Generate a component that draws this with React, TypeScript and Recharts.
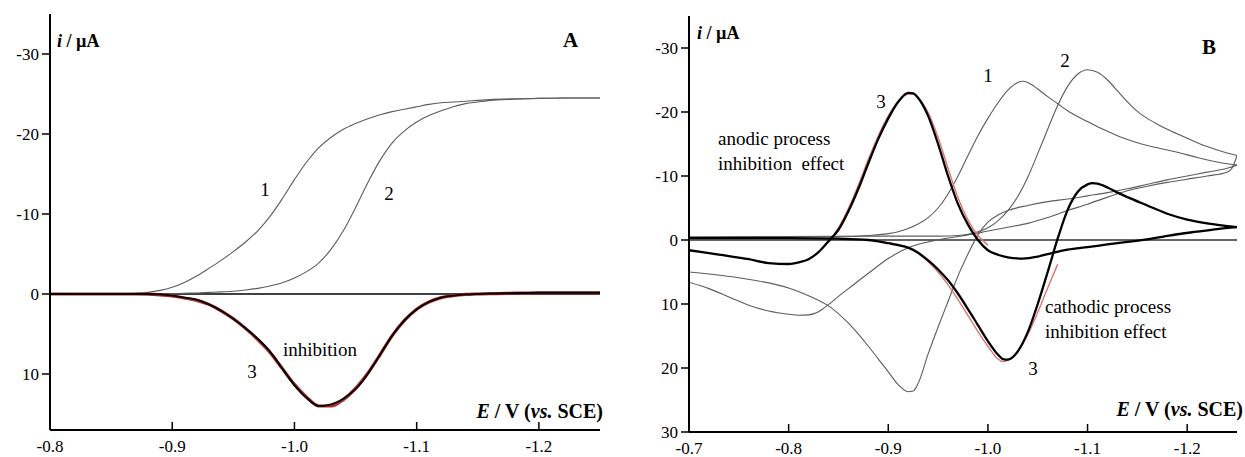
import { LineChart, Line, XAxis, YAxis, ReferenceLine } from 'recharts'

const SERIF = '"Liberation Serif", "Times New Roman", serif'

// ---- panel A: steady-state curves, E in V vs SCE, i in µA ----
const eA = [
  -0.80, -0.84, -0.86, -0.87, -0.88, -0.89, -0.90, -0.91, -0.92, -0.93,
  -0.94, -0.95, -0.96, -0.97, -0.98, -0.99, -1.00, -1.01, -1.02, -1.03,
  -1.04, -1.05, -1.06, -1.07, -1.08, -1.09, -1.10, -1.11, -1.12, -1.13,
  -1.14, -1.15, -1.16, -1.18, -1.20, -1.22, -1.25,
]
const a1 = [
  0, 0, -0.03, -0.08, -0.2, -0.45, -0.85, -1.45, -2.25, -3.2,
  -4.2, -5.3, -6.5, -7.9, -9.7, -11.9, -14.3, -16.5, -18.3, -19.6,
  -20.6, -21.3, -21.9, -22.4, -22.8, -23.1, -23.4, -23.7, -23.9, -24.0,
  -24.1, -24.2, -24.3, -24.4, -24.45, -24.5, -24.5,
]
const a2 = [
  0, 0, 0, 0, 0, 0, -0.05, -0.1, -0.13, -0.2,
  -0.27, -0.35, -0.5, -0.7, -1.0, -1.4, -2.0, -2.8, -3.9, -5.6,
  -7.9, -10.8, -13.9, -16.7, -18.9, -20.4, -21.5, -22.3, -22.9, -23.4,
  -23.8, -24.0, -24.2, -24.35, -24.45, -24.5, -24.5,
]
const a3 = [
  0, 0, 0, 0, 0, 0.05, 0.2, 0.45, 0.7, 1.3,
  2.1, 3.1, 4.3, 5.6, 7.2, 9.3, 11.4, 13.0, 14.0, 13.8,
  13.1, 11.9, 10.0, 7.6, 5.2, 3.3, 1.9, 1.0, 0.45, 0.2,
  0.05, 0, -0.05, -0.1, -0.15, -0.15, -0.15,
]
const a3fit = [
  0, 0, 0, 0, 0.02, 0.1, 0.25, 0.5, 0.8, 1.3,
  2.1, 3.1, 4.3, 5.7, 7.3, 9.3, 11.3, 12.9, 14.0, 14.0,
  13.2, 11.8, 9.9, 7.6, 5.2, 3.3, 1.9, 1.0, 0.45, 0.2,
  0.05, 0, -0.05, -0.1, -0.15, -0.15, -0.15,
]

// ---- panel B: cyclic voltammograms, forward and reverse branches ----
const eF1 = [
  -0.70, -0.75, -0.80, -0.85, -0.88, -0.90, -0.91, -0.92, -0.93, -0.94,
  -0.95, -0.96, -0.97, -0.98, -0.99, -1.00, -1.01, -1.02, -1.03, -1.035,
  -1.04, -1.05, -1.06, -1.07, -1.08, -1.09, -1.10, -1.11, -1.12, -1.13,
  -1.14, -1.15, -1.17, -1.19, -1.21, -1.23, -1.25,
]
const iF1 = [
  -0.4, -0.45, -0.5, -0.5, -0.7, -1.0, -1.3, -1.8, -2.5, -3.5,
  -5.0, -7.2, -10.0, -13.2, -16.3, -19.0, -21.4, -23.4, -24.6, -24.8,
  -24.6, -23.6, -22.4, -21.3, -20.2, -19.3, -18.5, -17.7, -17.0, -16.3,
  -15.7, -15.2, -14.4, -13.7, -12.9, -12.2, -11.7,
]
const eR1 = [
  -0.70, -0.75, -0.80, -0.82, -0.84, -0.86, -0.88, -0.89, -0.90, -0.91,
  -0.92, -0.925, -0.93, -0.94, -0.95, -0.96, -0.97, -0.98, -0.99, -1.00,
  -1.01, -1.02, -1.04, -1.06, -1.08, -1.10, -1.12, -1.14, -1.16, -1.18,
  -1.20, -1.22, -1.24, -1.25,
]
const iR1 = [
  5.0, 5.9, 7.5, 8.7, 10.3, 13.0, 16.6, 18.6, 20.6, 22.6,
  23.7, 23.6, 22.4, 17.8, 13.6, 9.6, 5.6, 2.2, -0.8, -2.8,
  -3.9, -4.6, -5.4, -6.0, -6.4, -6.9, -7.4, -8.0, -8.7, -9.4,
  -10.0, -10.6, -11.2, -11.7,
]
const eF2 = [
  -0.70, -0.80, -0.90, -0.95, -0.97, -0.98, -0.99, -1.00, -1.01, -1.02,
  -1.03, -1.04, -1.05, -1.06, -1.07, -1.08, -1.09, -1.10, -1.11, -1.12,
  -1.13, -1.14, -1.15, -1.16, -1.17, -1.18, -1.20, -1.22, -1.24, -1.25,
]
const iF2 = [
  -0.5, -0.55, -0.6, -0.6, -0.7, -0.9, -1.3, -1.9, -3.0, -4.6,
  -6.8, -9.8, -13.5, -17.3, -21.0, -24.0, -25.9, -26.6, -26.2, -25.0,
  -23.3, -21.6, -20.1, -19.0, -18.1, -17.3, -15.9, -14.6, -13.6, -13.2,
]
const eR2 = [
  -0.70, -0.72, -0.74, -0.76, -0.78, -0.80, -0.81, -0.82, -0.83, -0.84,
  -0.85, -0.86, -0.88, -0.90, -0.92, -0.94, -0.96, -0.98, -1.00, -1.02,
  -1.04, -1.06, -1.08, -1.10, -1.12, -1.14, -1.16, -1.18, -1.20, -1.22,
  -1.24, -1.245, -1.25,
]
const iR2 = [
  6.6, 7.6, 8.9, 10.2, 11.1, 11.6, 11.75, 11.7, 11.2, 10.1,
  8.8, 7.6, 5.2, 2.9, 1.2, 0.3, -0.3, -0.8, -1.4, -2.0,
  -2.6, -3.5, -4.6, -5.6, -6.7, -7.7, -8.4, -9.0, -9.5, -10.0,
  -10.6, -11.2, -13.2,
]
const eP = [
  -0.70, -0.75, -0.80, -0.85, -0.88, -0.89, -0.90, -0.91, -0.92, -0.93,
  -0.94, -0.95, -0.96, -0.97, -0.98, -0.99, -1.00, -1.01, -1.015, -1.02,
  -1.025, -1.03, -1.04, -1.05, -1.06, -1.07, -1.08, -1.09, -1.10, -1.105,
  -1.11, -1.12, -1.13, -1.14, -1.16, -1.18, -1.20, -1.22, -1.25,
]
const iP = [
  -0.3, -0.3, -0.3, -0.2, 0.0, 0.2, 0.5, 0.8, 1.2, 2.0,
  3.2, 4.6, 6.3, 8.4, 10.8, 13.3, 15.8, 17.9, 18.6, 18.7,
  18.3, 17.4, 14.4, 10.0, 5.0, -0.2, -4.7, -7.5, -8.7, -8.9,
  -8.8, -8.2, -7.4, -6.7, -5.4, -4.1, -3.2, -2.6, -2.0,
]
const eQ = [
  -0.70, -0.73, -0.76, -0.78, -0.80, -0.81, -0.82, -0.83, -0.84, -0.85,
  -0.86, -0.87, -0.88, -0.89, -0.90, -0.91, -0.92, -0.925, -0.93, -0.94,
  -0.95, -0.96, -0.97, -0.98, -0.99, -1.00, -1.01, -1.02, -1.035, -1.05,
  -1.065, -1.08, -1.10, -1.12, -1.14, -1.16, -1.175, -1.19, -1.21, -1.23,
  -1.25,
]
const iQ = [
  1.6, 2.3, 3.0, 3.6, 3.75, 3.5, 3.0, 1.9, 0.2, -1.6,
  -4.5, -8.0, -12.0, -15.8, -19.0, -21.6, -23.0, -22.9, -22.2, -19.4,
  -15.0, -10.0, -5.6, -2.4, 0.0, 1.6, 2.3, 2.7, 2.9, 2.6,
  2.0, 1.5, 1.1, 0.7, 0.3, -0.1, -0.5, -0.9, -1.3, -1.7,
  -2.0,
]
// fitted peaks (red)
const eFitQ = [-0.84, -0.85, -0.86, -0.87, -0.88, -0.89, -0.90, -0.91, -0.92, -0.925, -0.93, -0.94, -0.95, -0.96, -0.97, -0.98, -0.99, -1.00]
const iFitQ = [0.4, -1.9, -4.9, -8.6, -12.6, -16.3, -19.4, -21.6, -22.8, -22.8, -22.2, -19.9, -16.0, -11.2, -6.6, -3.1, -0.7, 0.8]
const eFitP = [-0.895, -0.91, -0.92, -0.93, -0.94, -0.95, -0.96, -0.97, -0.98, -0.99, -1.00, -1.01, -1.015, -1.02, -1.025, -1.03, -1.04, -1.05, -1.06, -1.07]
const iFitP = [0.3, 0.7, 1.2, 2.1, 3.4, 5.0, 7.0, 9.3, 11.8, 14.3, 16.6, 18.6, 19.0, 18.8, 18.3, 17.4, 14.8, 11.3, 7.5, 3.8]

const ticksA = [-0.8, -0.9, -1.0, -1.1, -1.2]
const ticksB = [-0.7, -0.8, -0.9, -1.0, -1.1, -1.2]
const yTicksA = [-30, -20, -10, 0, 10]
const yTicksB = [-30, -20, -10, 0, 10, 20, 30]

type Pt = { e: number; i: number }
const zip = (e: number[], i: number[]): Pt[] => e.map((x, k) => ({ e: x, i: i[k] }))

type Series = { data: Pt[]; stroke: string; width: number }

const GRAY = '#5c5c5c'

const seriesA: Series[] = [
  { data: zip(eA, a1), stroke: GRAY, width: 1.1 },
  { data: zip(eA, a2), stroke: GRAY, width: 1.1 },
  { data: zip(eA, a3fit), stroke: '#b02a2a', width: 3.2 },
  { data: zip(eA, a3), stroke: '#000', width: 1.9 },
]

const seriesB: Series[] = [
  { data: zip(eF1, iF1), stroke: GRAY, width: 1.1 },
  { data: zip(eR1, iR1), stroke: GRAY, width: 1.1 },
  { data: zip(eF2, iF2), stroke: GRAY, width: 1.1 },
  { data: zip(eR2, iR2), stroke: GRAY, width: 1.1 },
  { data: zip(eFitQ, iFitQ), stroke: '#e07474', width: 1.4 },
  { data: zip(eFitP, iFitP), stroke: '#e07474', width: 1.4 },
  { data: zip(eP, iP), stroke: '#000', width: 2.3 },
  { data: zip(eQ, iQ), stroke: '#000', width: 2.3 },
]

// x ticks point up into the plot, labels sit below the axis
function XTick(props: any) {
  const { x, y, payload } = props
  return (
    <g>
      <line x1={x} x2={x} y1={y} y2={y - 8} stroke="#000" strokeWidth={1.5} />
      <text x={x} y={y + 22} textAnchor="middle" fontSize={17} fontFamily={SERIF} fill="#000">
        {Number(payload.value).toFixed(1)}
      </text>
    </g>
  )
}

interface PanelProps {
  left: number
  width: number
  top: number
  right: number
  yAxisWidth: number
  xAxisHeight: number
  xDomain: [number, number]
  xTicks: number[]
  yDomain: [number, number]
  yTicks: number[]
  series: Series[]
  zeroColor: string
}

function Panel(p: PanelProps) {
  return (
    <div style={{ position: 'absolute', left: p.left, top: 0 }}>
      <LineChart width={p.width} height={457} margin={{ top: p.top, right: p.right, bottom: 0, left: 0 }}>
        <XAxis
          type="number"
          dataKey="e"
          domain={p.xDomain}
          ticks={p.xTicks}
          reversed
          allowDataOverflow
          interval={0}
          height={p.xAxisHeight}
          axisLine={{ stroke: '#000', strokeWidth: 2 }}
          tickLine={false}
          tickSize={0}
          tickMargin={0}
          tick={(t: any) => <XTick {...t} />}
        />
        <YAxis
          type="number"
          dataKey="i"
          domain={p.yDomain}
          ticks={p.yTicks}
          reversed
          allowDataOverflow
          interval={0}
          width={p.yAxisWidth}
          axisLine={{ stroke: '#000', strokeWidth: 2 }}
          tickLine={{ stroke: '#000', strokeWidth: 1.5 }}
          tickSize={8}
          tickMargin={3}
          tick={{ fill: '#000', fontSize: 17, fontFamily: SERIF }}
        />
        <ReferenceLine y={0} stroke={p.zeroColor} strokeWidth={1.6} />
        {p.series.map((s, k) => (
          <Line
            key={k}
            data={s.data}
            dataKey="i"
            type="monotone"
            stroke={s.stroke}
            strokeWidth={s.width}
            dot={false}
            activeDot={false}
            isAnimationActive={false}
          />
        ))}
      </LineChart>
    </div>
  )
}

export default function App() {
  const txt = { fontFamily: SERIF, fill: '#000' }
  return (
    <div style={{ position: 'fixed', left: 0, top: 0, width: 1245, height: 457, background: '#fff', overflow: 'hidden' }}>
      <Panel
        left={0} width={620} top={14} right={20} yAxisWidth={50} xAxisHeight={27}
        xDomain={[-1.25, -0.8]} xTicks={ticksA} yDomain={[-35, 17]} yTicks={yTicksA}
        series={seriesA} zeroColor="#000"
      />
      <Panel
        left={620} width={625} top={16} right={8} yAxisWidth={69} xAxisHeight={25}
        xDomain={[-1.25, -0.7]} xTicks={ticksB} yDomain={[-35, 30]} yTicks={yTicksB}
        series={seriesB} zeroColor="#333"
      />
      <svg width={1245} height={457} style={{ position: 'absolute', left: 0, top: 0, pointerEvents: 'none' }}>
        {/* panel A labels */}
        <text x={57} y={47} fontSize={18} fontWeight="bold" {...txt}>
          <tspan fontStyle="italic">i</tspan> / µA
        </text>
        <text x={563} y={47} fontSize={21} fontWeight="bold" {...txt}>A</text>
        <text x={265} y={196} fontSize={19} textAnchor="middle" {...txt}>1</text>
        <text x={389} y={200} fontSize={19} textAnchor="middle" {...txt}>2</text>
        <text x={252} y={378} fontSize={19} textAnchor="middle" {...txt}>3</text>
        <text x={283} y={356} fontSize={19} {...txt}>inhibition</text>
        <text x={603} y={418} fontSize={20} fontWeight="bold" textAnchor="end" {...txt}>
          <tspan fontStyle="italic">E</tspan> / V (<tspan fontStyle="italic">vs.</tspan> SCE)
        </text>

        {/* panel B labels */}
        <text x={697} y={39} fontSize={18} fontWeight="bold" {...txt}>
          <tspan fontStyle="italic">i</tspan> / µA
        </text>
        <text x={1202} y={54} fontSize={21} fontWeight="bold" {...txt}>B</text>
        <text x={988} y={82} fontSize={19} textAnchor="middle" {...txt}>1</text>
        <text x={1065} y={67} fontSize={19} textAnchor="middle" {...txt}>2</text>
        <text x={881} y={108} fontSize={19} textAnchor="middle" {...txt}>3</text>
        <text x={1033} y={375} fontSize={19} textAnchor="middle" {...txt}>3</text>
        <text x={718} y={145} fontSize={19} {...txt}>anodic process</text>
        <text x={718} y={170} fontSize={19} style={{ whiteSpace: 'pre' }} {...txt}>inhibition  effect</text>
        <text x={1045} y={313} fontSize={19} {...txt}>cathodic process</text>
        <text x={1045} y={338} fontSize={19} {...txt}>inhibition effect</text>
        <text x={1243} y={416} fontSize={20} fontWeight="bold" textAnchor="end" {...txt}>
          <tspan fontStyle="italic">E</tspan> / V (<tspan fontStyle="italic">vs.</tspan> SCE)
        </text>
      </svg>
    </div>
  )
}
